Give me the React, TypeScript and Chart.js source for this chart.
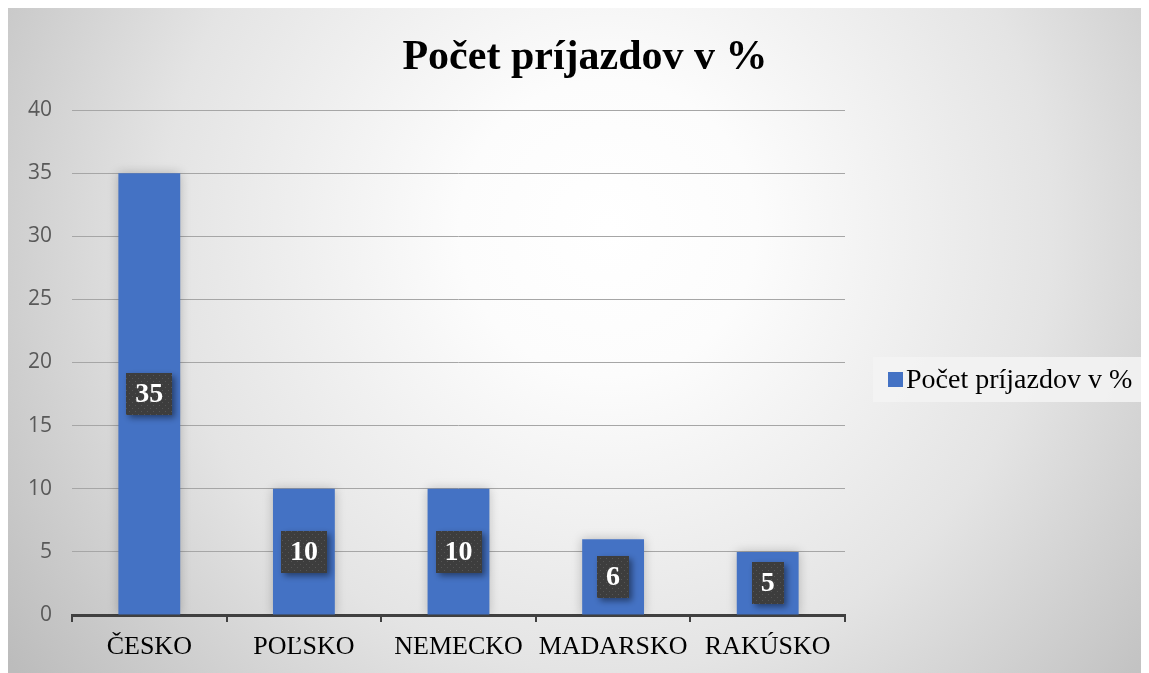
import { useEffect, useRef } from "react";
import { Chart, registerables } from "chart.js";

Chart.register(...registerables);

const categories = ["ČESKO", "POĽSKO", "NEMECKO", "MADARSKO", "RAKÚSKO"];
const values = [35, 10, 10, 6, 5];
const seriesLabel = "Počet príjazdov v %";
const chartTitle = "Počet príjazdov v %";
const yMin = 0;
const yMax = 40;
const yStep = 5;

const BAR_COLOR = "#4472C4";
const SERIF = '"Liberation Serif", "Times New Roman", serif';
const SANS = '"Open Sans", "Noto Sans", sans-serif';

function makePattern(ctx: CanvasRenderingContext2D) {
  const c = document.createElement("canvas");
  c.width = 6;
  c.height = 6;
  const p = c.getContext("2d")!;
  p.fillStyle = "#3d3d3d";
  p.fillRect(0, 0, 6, 6);
  p.fillStyle = "#555555";
  p.fillRect(1, 1, 1, 1);
  p.fillRect(4, 4, 1, 1);
  return ctx.createPattern(c, "repeat") || "#404040";
}

const backgroundPlugin = {
  id: "bgGradient",
  beforeDraw(chart: any) {
    const { ctx, width, height } = chart;
    ctx.save();
    const g = ctx.createRadialGradient(600, 220, 0, 600, 220, 740);
    g.addColorStop(0, "#ffffff");
    g.addColorStop(0.2, "#fcfcfc");
    g.addColorStop(0.6, "#e4e4e4");
    g.addColorStop(1, "#bcbcbc");
    ctx.fillStyle = g;
    ctx.fillRect(0, 0, width, height);
    ctx.restore();
  },
};

const barShadowPlugin = {
  id: "barShadow",
  beforeDatasetDraw(chart: any) {
    const ctx = chart.ctx;
    ctx.save();
    ctx.shadowColor = "rgba(0,0,0,0.22)";
    ctx.shadowBlur = 10;
  },
  afterDatasetDraw(chart: any) {
    chart.ctx.restore();
  },
};

const labelPlugin = {
  id: "valueLabels",
  afterDatasetsDraw(chart: any) {
    const ctx = chart.ctx as CanvasRenderingContext2D;
    const meta = chart.getDatasetMeta(0);
    const data = chart.data.datasets[0].data as number[];
    const pattern = makePattern(ctx);
    meta.data.forEach((bar: any, i: number) => {
      const { x, y, base } = bar.getProps(["x", "y", "base"], true);
      const cy = (y + base) / 2;
      const text = String(data[i]);
      ctx.save();
      ctx.font = `bold 28px ${SERIF}`;
      const tw = ctx.measureText(text).width;
      const w = tw + 18;
      const h = 42;
      ctx.shadowColor = "rgba(0,0,0,0.45)";
      ctx.shadowBlur = 6;
      ctx.shadowOffsetX = 3;
      ctx.shadowOffsetY = 3;
      ctx.fillStyle = pattern;
      ctx.fillRect(Math.round(x - w / 2), Math.round(cy - h / 2), Math.round(w), h);
      ctx.restore();
      ctx.save();
      ctx.font = `bold 28px ${SERIF}`;
      ctx.fillStyle = "#ffffff";
      ctx.textAlign = "center";
      ctx.textBaseline = "middle";
      ctx.fillText(text, x, cy + 1);
      ctx.restore();
    });
  },
};

const titleLegendPlugin = {
  id: "titleLegend",
  afterDraw(chart: any) {
    const ctx = chart.ctx as CanvasRenderingContext2D;
    const ds = chart.data.datasets[0];
    const area = chart.chartArea;
    ctx.save();
    // title
    ctx.font = `bold 42px ${SERIF}`;
    ctx.fillStyle = "#000000";
    ctx.textAlign = "center";
    ctx.textBaseline = "middle";
    ctx.fillText(chartTitle, 577, 50);
    // legend
    const lx = area.right + 28;
    const ly = 349;
    ctx.fillStyle = "rgba(243,243,243,0.9)";
    ctx.fillRect(lx, ly, 272, 45);
    ctx.fillStyle = ds.backgroundColor;
    ctx.fillRect(lx + 15, ly + 15, 15, 15);
    ctx.font = `28px ${SERIF}`;
    ctx.fillStyle = "#000000";
    ctx.textAlign = "left";
    ctx.textBaseline = "alphabetic";
    ctx.fillText(ds.label, lx + 33, ly + 31);
    ctx.restore();
  },
};

export default function App() {
  const ref = useRef<HTMLCanvasElement>(null);

  useEffect(() => {
    document.body.style.overflow = "hidden";
    const canvas = ref.current!;
    const chart = new Chart(canvas, {
      type: "bar",
      data: {
        labels: categories,
        datasets: [
          {
            label: seriesLabel,
            data: values,
            backgroundColor: BAR_COLOR,
            borderWidth: 0,
            barPercentage: 0.4,
            categoryPercentage: 1,
          },
        ],
      },
      options: {
        animation: false,
        responsive: false,
        maintainAspectRatio: false,
        devicePixelRatio: 1,
        layout: { padding: { top: 102, right: 304, left: 0, bottom: 0 } },
        plugins: {
          legend: { display: false },
          title: { display: false },
          tooltip: { enabled: false },
        },
        scales: {
          x: {
            grid: {
              display: true,
              drawOnChartArea: false,
              drawTicks: true,
              tickLength: 7,
              color: "#404040",
              lineWidth: 2,
            },
            border: { display: true, color: "#404040", width: 3 },
            ticks: {
              color: "#000000",
              font: { family: SERIF, size: 26 },
              padding: 10,
              maxRotation: 0,
              autoSkip: false,
            },
            afterFit(scale: any) {
              scale.height = 58;
            },
          },
          y: {
            min: yMin,
            max: yMax,
            ticks: {
              stepSize: yStep,
              color: "#595959",
              font: { family: SANS, size: 21 },
              padding: 20,
            },
            grid: {
              color: "#a6a6a6",
              lineWidth: 1,
              drawTicks: false,
            },
            border: { display: false },
            afterFit(scale: any) {
              scale.width = 64;
            },
          },
        },
      },
      plugins: [backgroundPlugin, barShadowPlugin, labelPlugin, titleLegendPlugin],
    });
    return () => chart.destroy();
  }, []);

  return (
    <div style={{ width: 1141, height: 665 }}>
      <canvas ref={ref} width={1141} height={665} style={{ display: "block" }} />
    </div>
  );
}
